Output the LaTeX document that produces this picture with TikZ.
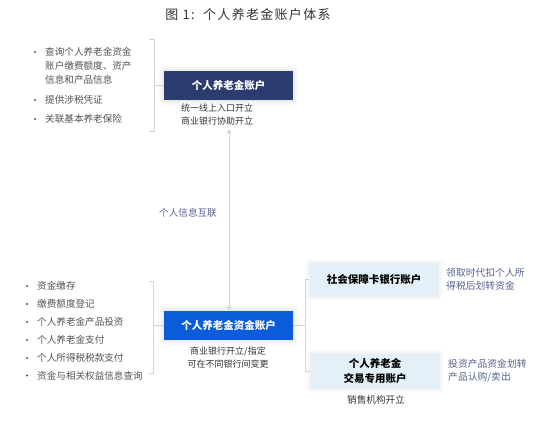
\documentclass[tikz,border=0pt]{standalone}
\usepackage{fontspec}
\setmainfont{Noto Sans CJK SC}
\newfontfamily\titlefont[LetterSpace=10]{Noto Sans CJK SC}
\usetikzlibrary{arrows.meta,shadows.blur}
\definecolor{linegray}{HTML}{D4D4D4}
\definecolor{navybox}{HTML}{2D3C6E}
\definecolor{bluebox}{HTML}{0B5CDB}
\definecolor{lightbox}{HTML}{E3F0F8}
\definecolor{bullgray}{HTML}{525252}
\definecolor{slate}{HTML}{56618E}
\definecolor{subtext}{HTML}{333333}
\begin{document}
\begin{tikzpicture}[x=1pt,y=-1pt,
  conn/.style={draw=linegray,line width=0.8pt},
  mainbox/.style={minimum width=129pt,minimum height=29.5pt,inner sep=0pt,text=white,
     font=\fontsize{10.5}{12}\selectfont\bfseries,
     blur shadow={shadow xshift=0pt,shadow yshift=0pt,shadow blur radius=6pt,shadow opacity=18}},
  sidebox/.style={fill=lightbox,minimum width=129pt,inner sep=0pt,align=center,
     font=\fontsize{10.5}{15}\selectfont\bfseries,text=black,
     blur shadow={shadow xshift=0pt,shadow yshift=0pt,shadow blur radius=5pt,shadow opacity=12}},
  bitem/.style={anchor=west,inner sep=0pt,text=bullgray,font=\fontsize{9.6}{12}\selectfont},
  subnote/.style={align=center,inner sep=0pt,text=subtext,font=\fontsize{9}{12.5}\selectfont},
  sidenote/.style={anchor=west,align=left,inner sep=0pt,text=slate,font=\fontsize{9.8}{13}\selectfont},
  dot/.style={fill=bullgray,circle,inner sep=0pt,minimum size=2.2pt}
]
\useasboundingbox (0,0) rectangle (550,423);
% title
\node (title) at (248,15) {\titlefont\fontsize{13}{15}\selectfont\color{subtext}图 1:\ \ 个人养老金账户体系};

% main boxes
\node[mainbox,fill=navybox] (acc) at (228.5,85.5) {个人养老金账户};
\node[subnote,anchor=north] (accnote) at (217,104) {统一线上入口开立\\商业银行协助开立};
\node[mainbox,fill=bluebox] (fund) at (228.5,325.5) {个人养老金资金账户};
\node[subnote,anchor=north] (fundnote) at (228,347) {商业银行开立/指定\\可在不同银行间变更};

% side boxes
\node[sidebox,minimum height=33pt] (ssc) at (374,279.5) {社会保障卡银行账户};
\node[sidebox,minimum height=34pt] (trade) at (375,371) {个人养老金\\交易专用账户};
\node[subnote,font=\fontsize{9.6}{12}\selectfont] (tradenote) at (376,400) {销售机构开立};

% side notes
\node[sidenote] (sscnote) at (446,279.5) {领取时代扣个人所\\得税后划转资金};
\node[sidenote] (tradenote2) at (448,371) {投资产品资金划转\\产品认购/卖出};

% link label
\node[inner sep=0pt,text=slate,font=\fontsize{9.6}{12}\selectfont] (link) at (188,213) {个人信息互联};

% vertical connector
\coordinate (vtop) at (229,129);
\draw[conn,{Triangle[length=4pt,width=4.5pt]}-{Triangle[length=4pt,width=4.5pt]}] (vtop) -- (fund.north -| vtop);

% top-left list
\node[bitem] (t1) at (45,52) {查询个人养老金资金};
\node[bitem] (t2) at (45,66) {账户缴费额度、资产};
\node[bitem] (t3) at (45,80) {信息和产品信息};
\node[bitem] (t4) at (45,100) {提供涉税凭证};
\node[bitem] (t5) at (45,119) {关联基本养老保险};
\foreach \n in {t1,t4,t5} \node[dot] at ([xshift=-10pt]\n.west) {};

% top bracket
\coordinate (b1t) at (154,39);
\coordinate (b1b) at (154,131);
\coordinate (b1m) at (154,85.5);
\draw[conn] ([xshift=-5pt]b1t) -- (b1t) -- (b1b) -- ([xshift=-5pt]b1b);
\draw[conn] (b1m) -- (acc.west);

% bottom-left list
\node[bitem] (l1) at (37,286) {资金缴存};
\node[bitem] (l2) at (37,304) {缴费额度登记};
\node[bitem] (l3) at (37,322) {个人养老金产品投资};
\node[bitem] (l4) at (37,340) {个人养老金支付};
\node[bitem] (l5) at (37,358) {个人所得税税款支付};
\node[bitem] (l6) at (37,375.5) {资金与相关权益信息查询};
\foreach \n in {l1,l2,l3,l4,l5,l6} \node[dot] at ([xshift=-10pt]\n.west) {};

% bottom-left bracket
\coordinate (b2t) at (153,281);
\coordinate (b2b) at (153,373);
\coordinate (b2m) at (153,325.5);
\draw[conn] ([xshift=-4.5pt]b2t) -- (b2t) -- (b2b) -- ([xshift=-4.5pt]b2b);
\draw[conn] (b2m) -- (fund.west);

% right bracket
\coordinate (rm) at (305,325.5);
\draw[conn] (fund.east) -- (rm);
\draw[conn] (ssc.west) -| (rm);
\draw[conn] (trade.west) -| (rm);
\end{tikzpicture}
\end{document}
